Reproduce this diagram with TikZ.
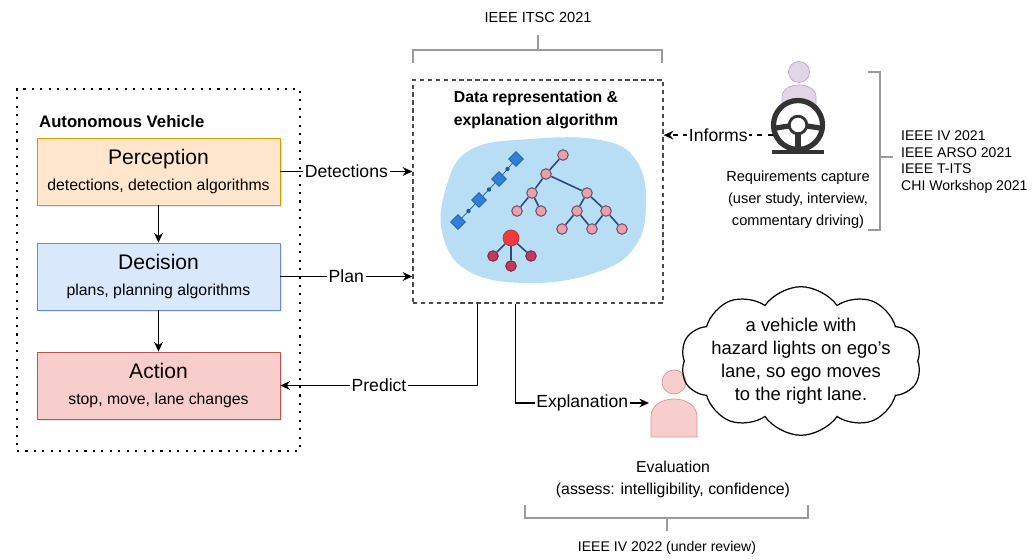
\documentclass[tikz,border=0pt]{standalone}
\usepackage{fontspec}
\setmainfont{Liberation Sans}
\usetikzlibrary{arrows.meta,positioning,shapes.symbols,calc,shadows}

\definecolor{percfill}{HTML}{FFE6CC}
\definecolor{percline}{HTML}{D79B00}
\definecolor{decfill}{HTML}{DAE8FC}
\definecolor{decline}{HTML}{6C8EBF}
\definecolor{actfill}{HTML}{F8CECC}
\definecolor{actline}{HTML}{B85450}
\definecolor{blobblue}{HTML}{B8DEF5}
\definecolor{sqfill}{HTML}{2F80D8}
\definecolor{sqline}{HTML}{1D5A9E}
\definecolor{treefill}{HTML}{E6A3AA}
\definecolor{treeline}{HTML}{7B4C6B}
\definecolor{treeedge}{HTML}{2C4A78}
\definecolor{hubred}{HTML}{F03A3E}
\definecolor{leafred}{HTML}{C23A5E}
\definecolor{driverfill}{HTML}{E1D5E7}
\definecolor{driverline}{HTML}{BFA6CF}
\definecolor{userfill}{HTML}{F8CECC}
\definecolor{userline}{HTML}{D99494}
\definecolor{pubgray}{HTML}{9A9A9A}
\definecolor{wheelgray}{HTML}{333333}

\tikzset{
  stage/.style   = {rectangle, draw, align=center, minimum width=4.86cm,
                    minimum height=1.34cm, font=\fontsize{9}{11}\selectfont,
                    drop shadow={shadow xshift=1.2pt, shadow yshift=-1.2pt, opacity=.2}},
  flow/.style    = {-{Stealth[length=5.5pt,width=5pt]}, line width=0.8pt},
  dflow/.style   = {flow, dashed},
  lbl/.style     = {fill=white, inner sep=1pt, font=\fontsize{10}{12}\selectfont},
  note/.style    = {align=center, font=\fontsize{8.3}{12.5}\selectfont},
  pub/.style     = {pubgray, semithick},
  leaf/.style    = {circle, draw=treeline, fill=treefill, line width=0.6pt,
                    minimum size=0.21cm, inner sep=0pt},
  tedge/.style   = {treeedge, line width=0.9pt},
  sq/.style      = {rectangle, rotate=45, draw=sqline, fill=sqfill,
                    minimum size=0.21cm, inner sep=0pt},
  dotnode/.style = {circle, fill=sqline, minimum size=2.5pt, inner sep=0pt},
  spoke/.style   = {wheelgray, line width=3pt},
}

\begin{document}
\begin{tikzpicture}[x=0.02cm, y=-0.02cm]
  \useasboundingbox (0,0) rectangle (1035,560);

  % vehicle pipeline
  \node[draw, line width=1.2pt, dash pattern=on 1.2pt off 3.6pt,
        minimum width=5.66cm, minimum height=7.24cm] (av) at (158.5,270) {};
  \node[anchor=west, font=\bfseries\fontsize{9.5}{11}\selectfont] (avtitle) at (33,122) {Autonomous Vehicle};
  \node[stage, fill=percfill, draw=percline] (perc) at (158.5,171.5)
    {{\fontsize{12}{14}\selectfont Perception}\\[4pt]detections, detection algorithms};
  \node[stage, fill=decfill, draw=decline] (dec) at (158.5,276.5)
    {{\fontsize{12}{14}\selectfont Decision}\\[4pt]plans, planning algorithms};
  \node[stage, fill=actfill, draw=actline] (act) at (158.5,385.5)
    {{\fontsize{12}{14}\selectfont Action}\\[4pt]stop, move, lane changes};
  \draw[flow] (perc) -- (dec);
  \draw[flow] (dec) -- (act);

  % representation block
  \node[draw=black!70, line width=0.8pt, dash pattern=on 2.5pt off 2pt,
        minimum width=5cm, minimum height=4.46cm] (data) at (538,191.5) {};
  \node[align=center, font=\bfseries\fontsize{9}{13.5}\selectfont] (datatitle) at (536,110)
    {Data representation \&\\explanation algorithm};
  \fill[blobblue] plot[smooth cycle, tension=0.7] coordinates {(470,150) (530,139) (600,140)
    (636,160) (646,205) (634,248) (595,273) (530,283) (470,272) (443,236) (446,188)};

  % chain of blue blocks
  \node[sq] (s1) at (516,159) {};
  \node[sq] (s2) at (499,179) {};
  \node[sq] (s3) at (479,200) {};
  \node[sq] (s4) at (458,222) {};
  \draw[sqline, thin] (s1) -- node[dotnode]{} (s2);
  \draw[sqline, thin] (s2) -- node[dotnode]{} (s3);
  \draw[sqline, thin] (s3) -- node[dotnode]{} (s4);

  % tree
  \node[leaf] (t0) at (563,155) {};
  \node[leaf] (t1) at (546,174) {};
  \node[leaf] (t2) at (532,193) {};
  \node[leaf] (t3) at (587,193) {};
  \node[leaf] (t4) at (517,211) {};
  \node[leaf] (t5) at (541,211) {};
  \node[leaf] (t6) at (577,211) {};
  \node[leaf] (t7) at (606,211) {};
  \node[leaf] (t8) at (562,229) {};
  \node[leaf] (t9) at (592,229) {};
  \node[leaf] (t10) at (622,229) {};
  \draw[tedge] (t0) -- (t1);
  \draw[tedge] (t1) -- (t2);
  \draw[tedge] (t1) -- (t3);
  \draw[tedge] (t2) -- (t4);
  \draw[tedge] (t2) -- (t5);
  \draw[tedge] (t3) -- (t6);
  \draw[tedge] (t3) -- (t7);
  \draw[tedge] (t6) -- (t8);
  \draw[tedge] (t6) -- (t9);
  \draw[tedge] (t7) -- (t9);
  \draw[tedge] (t7) -- (t10);

  % star
  \node[circle, fill=hubred, draw=hubred!80!black, minimum size=0.32cm, inner sep=0pt] (hub) at (511,238) {};
  \node[leaf, fill=leafred, draw=leafred!70!black] (r1) at (493,256) {};
  \node[leaf, fill=leafred, draw=leafred!70!black] (r2) at (511,266) {};
  \node[leaf, fill=leafred, draw=leafred!70!black] (r3) at (531,256) {};
  \draw[tedge] (hub) -- (r1);
  \draw[tedge] (hub) -- (r2);
  \draw[tedge] (hub) -- (r3);

  % driver
  \node[circle, draw=driverline, fill=driverfill, minimum size=0.42cm, inner sep=0pt] (driverhead) at (799,72) {};
  \filldraw[draw=driverline, fill=driverfill] (782,118) -- (782,97)
    .. controls (782,81) and (816,81) .. (816,97) -- (816,118) -- cycle;
  \node[circle, draw=wheelgray, fill=white, line width=3pt, minimum size=0.98cm, inner sep=0pt] (wheel) at (798,125) {};
  \draw[wheelgray, line width=1.6pt] (wheel.center) circle[radius=5pt];
  \draw[spoke] ($(wheel.center)+(-22,3)$) -- ($(wheel.center)+(-9,1)$);
  \draw[spoke] ($(wheel.center)+(22,3)$) -- ($(wheel.center)+(9,1)$);
  \draw[spoke] ($(wheel.center)+(0,9)$) -- ($(wheel.center)+(0,22)$);
  \draw[wheelgray, line width=1.8pt] (772,152) -- (824,152);
  \node[note] (reqtext) at (798,200) {Requirements capture\\(user study, interview,\\commentary driving)};

  % evaluator
  \node[circle, draw=userline, fill=userfill, minimum size=0.48cm, inner sep=0pt] (userhead) at (674,382) {};
  \filldraw[draw=userline, fill=userfill] (651,437) -- (651,417)
    .. controls (651,393) and (697,393) .. (697,417) -- (697,437) -- cycle;
  \coordinate (evalin) at (649,403);
  \node[note, font=\fontsize{9}{12.5}\selectfont] (evaltext) at (673,479) {Evaluation\\(assess: intelligibility, confidence)};
  \node[cloud, cloud puffs=10, cloud puff arc=110, aspect=2, draw, line width=0.7pt,
        inner xsep=-4pt, inner ysep=-12pt, minimum width=4.76cm, minimum height=2.84cm, align=center,
        font=\fontsize{10.5}{13}\selectfont] (thought) at (801,361)
    {a vehicle with\\hazard lights on ego's\\lane, so ego moves\\to the right lane.};

  % connectors
  \draw[flow] (perc.east) -- node[lbl]{Detections} (perc.east -| data.west);
  \draw[flow] (dec.east) -- node[lbl]{Plan} (dec.east -| data.west);
  \draw[flow] ($(data.south west)!0.26!(data.south east)$) |- node[lbl, pos=0.75]{Predict} (act.east);
  \draw[flow] ($(data.south west)!0.41!(data.south east)$) |- node[lbl, pos=0.75]{Explanation} (evalin);
  \draw[dflow] (wheel.202) -- node[lbl]{Informs} (wheel.202 -| data.east);

  % publications
  \draw[pub] (413,63) -- (413,50) -- (662,50) -- (662,63);
  \draw[pub] (538,50) -- (538,35);
  \node[note, font=\fontsize{8.3}{10}\selectfont] (itsc) at (538,17) {IEEE ITSC 2021};
  \draw[pub] (868,72) -- (880,72) -- (880,230) -- (868,230);
  \draw[pub] (880,157) -- (893,157);
  \node[anchor=west, align=left, font=\fontsize{8}{9.6}\selectfont] (venues) at (895,162)
    {IEEE IV 2021\\IEEE ARSO 2021\\IEEE T-ITS\\CHI Workshop 2021};
  \draw[pub] (525,505) -- (525,518) -- (808,518) -- (808,505);
  \draw[pub] (667,518) -- (667,531);
  \node[note, font=\fontsize{8}{10}\selectfont] (ivnext) at (667,548) {IEEE IV 2022 (under review)};
\end{tikzpicture}
\end{document}
